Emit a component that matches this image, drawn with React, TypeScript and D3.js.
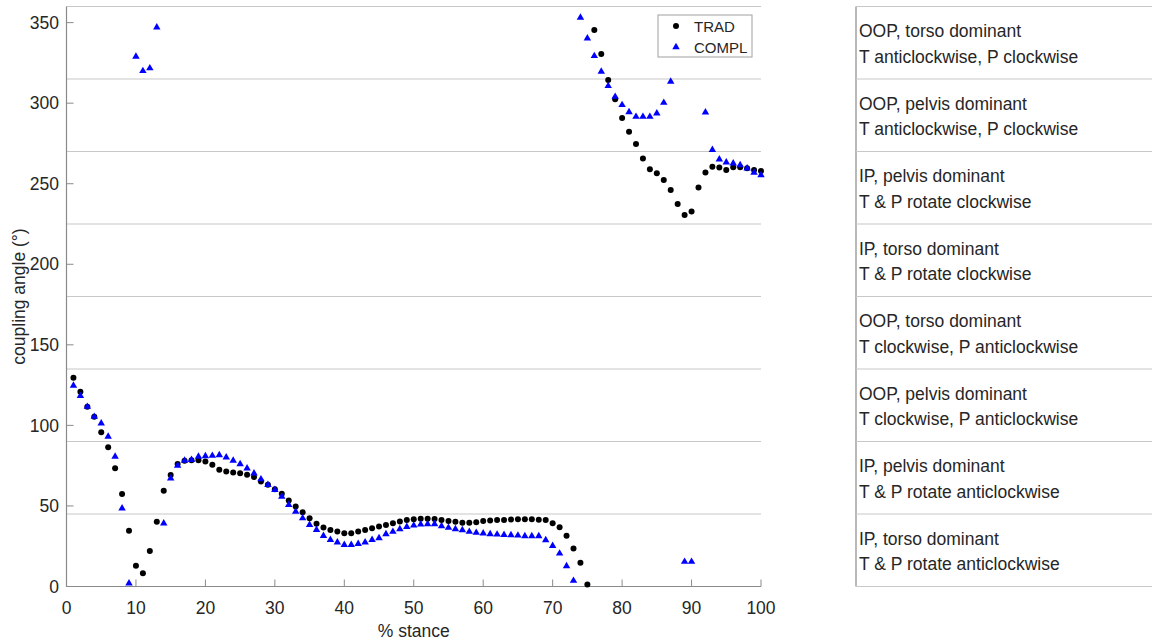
import React from "react";
import * as d3 from "d3";

const stance: number[] = d3.range(1, 101);

const trad: (number | null)[] = [
  129.6, 120.9, 111.6, 105.4, 95.7, 86.4, 73.4, 57.4, 34.6, 12.9,
  8.2, 22.0, 40.2, 59.5, 69.2, 76.0, 78.1, 78.3, 78.3, 77.6,
  75.5, 72.4, 71.4, 70.8, 70.3, 69.3, 67.9, 65.2, 63.1, 60.4,
  57.5, 53.4, 49.6, 46.1, 42.4, 38.9, 36.6, 35.1, 34.1, 33.1,
  33.1, 34.1, 35.1, 36.1, 37.3, 38.2, 39.3, 40.3, 41.2, 41.7,
  42.1, 42.1, 41.9, 41.2, 40.6, 40.2, 39.6, 39.6, 39.9, 40.6,
  41.0, 41.2, 41.2, 41.6, 41.7, 41.7, 41.7, 41.5, 41.2, 39.2,
  36.7, 31.5, 23.6, 14.8, 1.2, 345.4, 330.5, 314.4, 302.4, 290.8,
  282.3, 274.7, 265.6, 259.0, 256.5, 252.3, 246.1, 237.4, 230.6, 232.7,
  247.6, 256.9, 260.6, 260.0, 258.5, 260.2, 260.2, 259.6, 258.5, 257.9,
];

const compl: (number | null)[] = [
  124.7, 118.3, 111.6, 105.4, 101.3, 93.0, 80.6, 48.5, 2.0, 328.9,
  320.0, 321.7, 347.1, 39.2, 67.2, 75.0, 78.1, 78.6, 80.6, 81.0,
  81.2, 81.6, 80.2, 78.1, 76.0, 73.4, 70.3, 66.6, 63.1, 60.0,
  55.8, 50.7, 46.5, 42.4, 38.3, 35.2, 31.5, 29.0, 27.4, 25.9,
  25.9, 26.5, 27.4, 29.0, 30.1, 32.5, 34.0, 35.6, 37.1, 37.9,
  38.5, 38.8, 38.8, 37.5, 36.5, 35.6, 35.0, 34.0, 33.4, 33.0,
  32.5, 32.3, 32.1, 31.9, 31.7, 31.3, 31.3, 31.3, 28.8, 25.3,
  20.5, 12.7, 3.6, 353.1, 340.3, 329.3, 319.6, 310.7, 304.0, 298.9,
  294.5, 291.6, 291.6, 291.6, 293.7, 300.3, 313.4, null, 15.4, 15.4,
  null, 294.3, 271.0, 265.2, 263.3, 262.7, 261.6, 259.6, 256.9, 255.4,
];

const xTicks: number[] = [0, 10, 20, 30, 40, 50, 60, 70, 80, 90, 100];
const yTicks: number[] = [0, 50, 100, 150, 200, 250, 300, 350];
const gridValues: number[] = [0, 45, 90, 135, 180, 225, 270, 315, 360];

const regionTop: number[] = [360, 315, 270, 225, 180, 135, 90, 45];
const regionLine1: string[] = [
  "OOP, torso dominant",
  "OOP, pelvis dominant",
  "IP, pelvis dominant",
  "IP, torso dominant",
  "OOP, torso dominant",
  "OOP, pelvis dominant",
  "IP, pelvis dominant",
  "IP, torso dominant",
];
const regionLine2: string[] = [
  "T anticlockwise, P clockwise",
  "T anticlockwise, P clockwise",
  "T & P rotate clockwise",
  "T & P rotate clockwise",
  "T clockwise, P anticlockwise",
  "T clockwise, P anticlockwise",
  "T & P rotate anticlockwise",
  "T & P rotate anticlockwise",
];

const seriesNames: string[] = ["TRAD", "COMPL"];

const FONT = "'Liberation Sans', Arial, Helvetica, sans-serif";

export default function App() {
  const x = d3.scaleLinear().domain([0, 100]).range([66.5, 761]);
  const y = d3.scaleLinear().domain([0, 360]).range([586.5, 6.5]);
  const tri = d3.symbol().type(d3.symbolTriangle).size(24)() as string;
  const panelLeft = 856;
  const panelRight = 1152;
  const gridColor = "#c8c8c8";
  const axisColor = "#8a8a8a";
  const textColor = "#262626";
  const fs = 17.5;

  return (
    <div style={{ position: "fixed", left: 0, top: 0 }}>
      <svg width={1152} height={641} style={{ display: "block", background: "#fff" }}>
        <rect x={0} y={0} width={1152} height={641} fill="#fff" />
        {gridValues.filter((v) => v > 0).map((v) => (
          <line key={"g" + v} x1={x(0)} x2={x(100)} y1={y(v)} y2={y(v)} stroke={gridColor} strokeWidth={1.2} />
        ))}
        <line x1={x(0)} x2={x(100)} y1={y(0)} y2={y(0)} stroke={axisColor} strokeWidth={1.2} />
        <line x1={x(0)} x2={x(0)} y1={y(0)} y2={y(360)} stroke={axisColor} strokeWidth={1.2} />
        {xTicks.map((t) => (
          <g key={"xt" + t}>
            <line x1={x(t)} x2={x(t)} y1={y(0)} y2={y(0) - 7} stroke={axisColor} strokeWidth={1} />
            <text x={x(t)} y={614} textAnchor="middle" fontFamily={FONT} fontSize={fs} fill={textColor}>
              {t}
            </text>
          </g>
        ))}
        {yTicks.map((t) => (
          <g key={"yt" + t}>
            <line x1={x(0)} x2={x(0) + 7} y1={y(t)} y2={y(t)} stroke={axisColor} strokeWidth={1} />
            <text x={59} y={y(t)} dy="0.35em" textAnchor="end" fontFamily={FONT} fontSize={fs} fill={textColor}>
              {t}
            </text>
          </g>
        ))}
        <text x={x(50)} y={637} textAnchor="middle" fontFamily={FONT} fontSize={fs} fill={textColor}>
          % stance
        </text>
        <text
          transform={`translate(25, ${y(180)}) rotate(-90)`}
          textAnchor="middle"
          fontFamily={FONT}
          fontSize={fs}
          fill={textColor}
        >
          coupling angle (°)
        </text>
        {stance.map((s, i) =>
          trad[i] == null ? null : (
            <circle key={"t" + s} cx={x(s)} cy={y(trad[i] as number)} r={3} fill="#000" />
          )
        )}
        {stance.map((s, i) =>
          compl[i] == null ? null : (
            <path key={"c" + s} d={tri} transform={`translate(${x(s)},${y(compl[i] as number)})`} fill="#0000ff" />
          )
        )}
        <rect x={658} y={15} width={94} height={42} fill="#fff" stroke="#a0a0a0" strokeWidth={1} />
        <circle cx={676} cy={26} r={3} fill="#000" />
        <text x={694} y={32} fontFamily={FONT} fontSize={15} fill={textColor}>
          {seriesNames[0]}
        </text>
        <path d={tri} transform="translate(676,47)" fill="#0000ff" />
        <text x={694} y={52.5} fontFamily={FONT} fontSize={15} fill={textColor}>
          {seriesNames[1]}
        </text>
        <line x1={panelLeft} x2={panelLeft} y1={y(360)} y2={y(0)} stroke={axisColor} strokeWidth={1.2} />
        {gridValues.map((v) => (
          <line key={"p" + v} x1={panelLeft} x2={panelRight} y1={y(v)} y2={y(v)} stroke={gridColor} strokeWidth={1.2} />
        ))}
        {regionTop.map((v, i) => (
          <g key={"r" + v}>
            <text x={859} y={y(v) + 30.5} fontFamily={FONT} fontSize={fs} fill={textColor}>
              {regionLine1[i]}
            </text>
            <text x={859} y={y(v) + 56} fontFamily={FONT} fontSize={fs} fill={textColor}>
              {regionLine2[i]}
            </text>
          </g>
        ))}
      </svg>
    </div>
  );
}
